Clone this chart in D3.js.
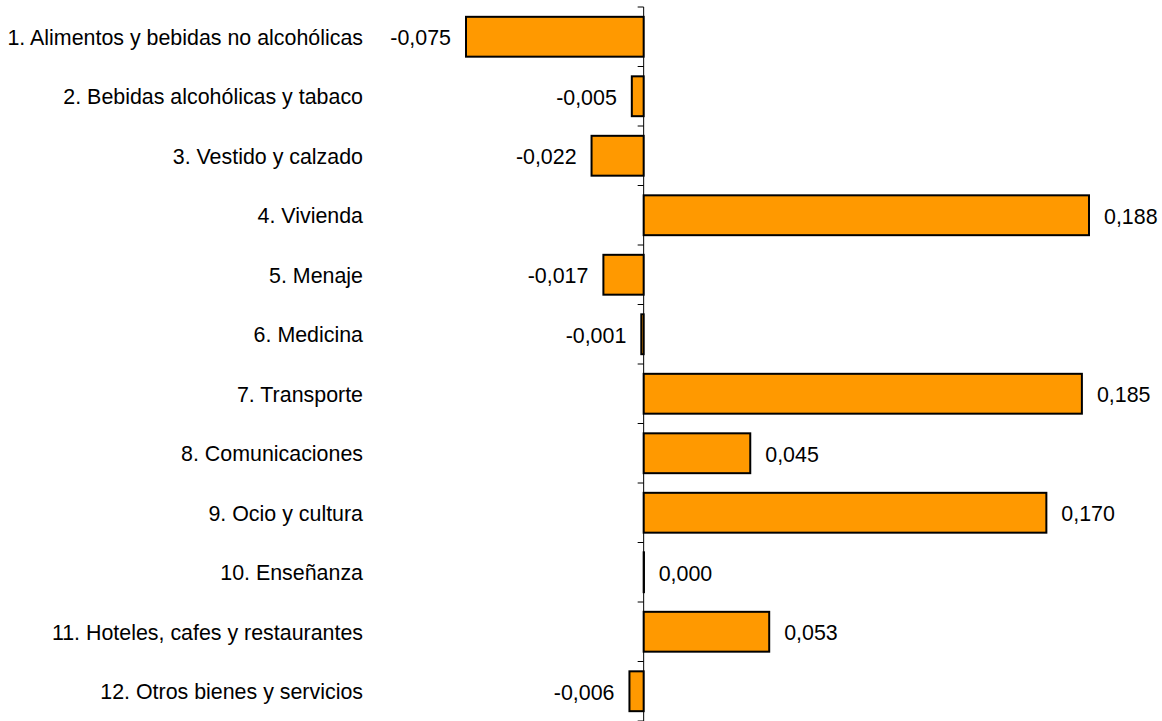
<!DOCTYPE html>
<html lang="es">
<head>
    <meta charset="UTF-8">
    <title>Repercusión por grupos</title>
    <script src="https://d3js.org/d3.v7.min.js"></script>
    <style>
        body { margin: 0; background: #fff; }
        svg { display: block; }
        text { font-family: Arial, "Liberation Sans", sans-serif; font-size: 21.4px; fill: #000; }
        .bar { fill: #ff9900; stroke: #000; stroke-width: 2; }
        .axis line, .axis path { stroke: #000; stroke-width: 1; }
    </style>
</head>
<body>
<script>
    const width = 1162;
    const height = 721;

    const categories = [
        "1. Alimentos y bebidas no alcohólicas",
        "2. Bebidas alcohólicas y tabaco",
        "3. Vestido y calzado",
        "4. Vivienda",
        "5. Menaje",
        "6. Medicina",
        "7. Transporte",
        "8. Comunicaciones",
        "9. Ocio y cultura",
        "10. Enseñanza",
        "11. Hoteles, cafes y restaurantes",
        "12. Otros bienes y servicios"
    ];
    const values = [-0.075, -0.005, -0.022, 0.188, -0.017, -0.001, 0.185, 0.045, 0.170, 0.000, 0.053, -0.006];

    const svg = d3.select("body").append("svg")
        .attr("width", width).attr("height", height);

    const x = d3.scaleLinear()
        .domain([-0.075, 0.188])
        .range([466, 1089]);

    const y = d3.scaleBand()
        .domain(categories)
        .range([7, 721])
        .paddingInner(0.33)
        .paddingOuter(0.165);

    const fmt = v => d3.format(".3f")(v).replace("−", "-").replace(".", ",");

    // bars (a zero value still shows as a thin outline)
    svg.selectAll("rect.bar")
        .data(values)
        .enter()
        .append("rect")
        .attr("class", "bar")
        .attr("x", d => x(Math.min(0, d)))
        .attr("y", (d, i) => y(categories[i]))
        .attr("width", d => Math.max(0.3, Math.abs(x(d) - x(0))))
        .attr("height", y.bandwidth());

    // zero axis with ticks between categories
    const g = svg.append("g").attr("class", "axis");
    g.append("line")
        .attr("x1", x(0)).attr("x2", x(0))
        .attr("y1", 7).attr("y2", 721);
    const step = y.step();
    g.selectAll("line.tick")
        .data(d3.range(categories.length + 1))
        .enter()
        .append("line")
        .attr("class", "tick")
        .attr("x1", x(0) - 6).attr("x2", x(0))
        .attr("y1", i => 7 + i * step)
        .attr("y2", i => 7 + i * step);

    // category labels
    svg.selectAll("text.cat")
        .data(categories)
        .enter()
        .append("text")
        .attr("class", "cat")
        .attr("x", 363)
        .attr("y", d => y(d) + y.bandwidth() / 2)
        .attr("dy", "0.38em")
        .attr("text-anchor", "end")
        .text(d => d);

    // value labels
    svg.selectAll("text.val")
        .data(values)
        .enter()
        .append("text")
        .attr("class", "val")
        .attr("x", d => d < 0 ? x(d) - 15 : x(d) + 15)
        .attr("y", (d, i) => y(categories[i]) + y.bandwidth() / 2)
        .attr("dy", "0.4em")
        .attr("text-anchor", d => d < 0 ? "end" : "start")
        .text(d => fmt(d));
</script>
</body>
</html>
